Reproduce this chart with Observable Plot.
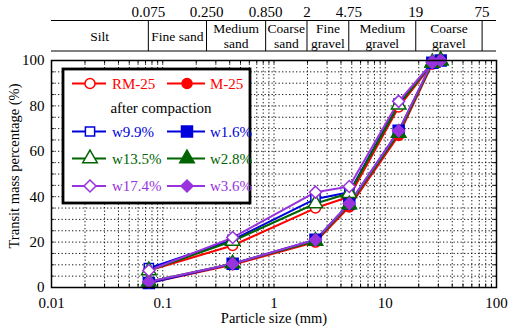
<!DOCTYPE html>
<html>
<head>
<meta charset="utf-8">
<script src="https://cdn.jsdelivr.net/npm/d3@7"></script>
<script src="https://cdn.jsdelivr.net/npm/@observablehq/plot@0.6"></script>
<style>
  html, body { margin: 0; padding: 0; background: white; }
  #chart { width: 508px; height: 331px; }
  #chart svg, #chart svg text { font-family: "Liberation Serif", "Times New Roman", Times, serif !important; }
</style>
</head>
<body>
<div id="chart"></div>
<script>
// ---- data ----
const sizes = [0.075, 0.425, 2.36, 4.75, 13.2, 26.5, 31.5];
const seriesNames = ["RM-25", "M-25", "w9.9%", "w1.6%", "w13.5%", "w2.8%", "w17.4%", "w3.6%"];
const seriesColors = ["#ff0000", "#ff0000", "#0000dd", "#0000dd", "#006400", "#006400", "#9933dd", "#9933dd"];
const seriesSymbols = ["circle", "circle", "square", "square", "triangle", "triangle", "diamond2", "diamond2"];
const seriesFilled = [false, true, false, true, false, true, false, true];
const rm25  = [7.5, 18.5, 35, 40, 79.5, 98.5, 100];
const m25   = [2, 10, 20, 35.5, 67, 98.5, 100];
const w99   = [8.5, 21, 39, 42, 81, 99, 100];
const w16   = [2, 10.5, 21, 37, 69, 99, 100];
const w135  = [7.5, 20.5, 37, 41.5, 80.5, 99, 100];
const w28   = [2.5, 10.5, 20.5, 36.5, 68, 99, 100];
const w174  = [7.5, 22, 42, 44.5, 82, 99, 100];
const w36   = [2.5, 10.5, 21, 37, 69, 99.5, 100];
const seriesValues = [rm25, m25, w99, w16, w135, w28, w174, w36];

const boundaries = [0.075, 0.25, 0.85, 2, 4.75, 19, 75];
const boundaryLabels = ["0.075", "0.250", "0.850", "2", "4.75", "19", "75"];
const classNames = [["Silt"], ["Fine sand"], ["Medium", "sand"], ["Coarse", "sand"], ["Fine", "gravel"], ["Medium", "gravel"], ["Coarse", "gravel"]];
const xTicks = [0.01, 0.1, 1, 10, 100];
const yTicks = [0, 20, 40, 60, 80, 100];

// ---- build ----
const rows = [];
seriesNames.forEach((name, i) => {
  sizes.forEach((s, j) => rows.push({series: name, idx: i, size: s, pct: seriesValues[i][j]}));
});
const minorX = [];
for (let e = -2; e < 2; e++) for (let k = 1; k <= 9; k++) minorX.push(k * Math.pow(10, e));
minorX.push(100);
const gridYVals = d3.range(5, 100, 5);
const yMinor = d3.range(0, 101, 5);

const font = '"Liberation Serif", "Times New Roman", Times, serif';
const marks = [
  Plot.gridX(minorX, {stroke: "black", strokeOpacity: 0.9, strokeWidth: 1, strokeDasharray: "1.3,2.2"}),
  Plot.gridY(gridYVals, {stroke: "black", strokeOpacity: 0.9, strokeWidth: 1, strokeDasharray: "1.3,2.2"}),
  Plot.ruleX(minorX, {x: d => d, y1: 0, y2: 1.5, stroke: "black"}),
  Plot.ruleX(minorX, {x: d => d, y1: 98.5, y2: 100, stroke: "black"}),
  Plot.ruleY(yMinor, {y: d => d, x1: 0.01, x2: 0.0106, stroke: "black"}),
  Plot.ruleY(yMinor, {y: d => d, x1: 94.3, x2: 100, stroke: "black"}),
  Plot.axisX(xTicks, {tickSize: 0, tickPadding: 10, tickFormat: d3.format("~g"), label: null, fontSize: 15}),
  Plot.axisY(yTicks, {tickSize: 0, tickPadding: 7, label: null, fontSize: 15}),
  Plot.text(["Particle size (mm)"], {frameAnchor: "bottom", dy: 35, fontSize: 14.5}),
  Plot.text(["Transit mass percentage (%)"], {frameAnchor: "left", textAnchor: "middle", dx: -37, dy: -8, rotate: -90, fontSize: 14.5})
];
seriesNames.forEach((name, i) => {
  const d = rows.filter(r => r.idx === i);
  marks.push(Plot.line(d, {x: "size", y: "pct", stroke: seriesColors[i], strokeWidth: 2}));
});
const symR = (i) => {
  const sym = seriesSymbols[i];
  return sym === "square" ? (seriesFilled[i] ? 6.2 : 5.2) : sym === "diamond2" ? 5.4 : sym === "triangle" ? 5.4 : 5;
};
seriesNames.forEach((name, i) => {
  const d = rows.filter(r => r.idx === i);
  const sym = seriesSymbols[i];
  marks.push(Plot.dot(d, {
    x: "size", y: "pct", symbol: () => sym, r: symR(i),
    fill: seriesFilled[i] ? seriesColors[i] : "white",
    stroke: seriesColors[i], strokeWidth: 1.5
  }));
});
marks.push(Plot.frame({stroke: "black", strokeWidth: 1.5}));

const plot = Plot.plot({
  width: 508, height: 331,
  marginLeft: 51, marginRight: 12, marginTop: 60, marginBottom: 44,
  x: {type: "log", domain: [0.01, 100]},
  y: {domain: [0, 100]},
  symbol: {type: "identity"},
  style: {fontFamily: font, fontSize: "15px", color: "black", background: "white", overflow: "visible"},
  marks
});
document.getElementById("chart").appendChild(plot);

// ---- size-class table above the plot (positions from Plot's x scale) ----
const sx = plot.scale("x").apply;
const svg = d3.select(plot);
const tbl = svg.append("g").attr("fill", "black");
const xL = sx(0.01), xR = sx(100);
const tTop = 20.5, tBot = 51;
tbl.append("line").attr("x1", xL).attr("x2", xR).attr("y1", tTop).attr("y2", tTop).attr("stroke", "black");
tbl.append("line").attr("x1", xL).attr("x2", xR).attr("y1", tBot).attr("y2", tBot).attr("stroke", "black");
boundaries.forEach((b, i) => {
  const x = sx(b);
  tbl.append("line").attr("x1", x).attr("x2", x).attr("y1", tTop).attr("y2", tBot).attr("stroke", "black");
  tbl.append("text").attr("x", x).attr("y", 12).attr("dy", "0.35em").attr("text-anchor", "middle")
    .attr("font-size", 15).text(boundaryLabels[i]);
});
const edges = [0.01, ...boundaries];
classNames.forEach((lines, i) => {
  const xm = (sx(edges[i]) + sx(edges[i + 1])) / 2;
  const ys = lines.length === 1 ? [36] : [28.5, 43.5];
  lines.forEach((t, k) => {
    tbl.append("text").attr("x", xm).attr("y", ys[k]).attr("dy", "0.35em").attr("text-anchor", "middle")
      .attr("font-size", 13.5).text(t);
  });
});

// ---- legend ----
const lg = svg.append("g");
lg.append("rect").attr("x", 63).attr("y", 69).attr("width", 187).attr("height", 134)
  .attr("fill", "white").attr("stroke", "black").attr("stroke-width", 2.8);
const rowY = [83.5, 131.5, 158.5, 186];
const colX = [[72, 106, 90, 112], [167, 205, 187, 210]];
const symMap = {circle: d3.symbolCircle, square: d3.symbolSquare, triangle: d3.symbolTriangle, diamond2: d3.symbolDiamond2};
seriesNames.forEach((name, i) => {
  const row = Math.floor(i / 2), col = i % 2;
  const y = rowY[row];
  const [x1, x2, xm, xt] = colX[col];
  lg.append("line").attr("x1", x1).attr("x2", x2).attr("y1", y).attr("y2", y)
    .attr("stroke", seriesColors[i]).attr("stroke-width", 2);
  const r = symR(i);
  lg.append("path").attr("d", d3.symbol(symMap[seriesSymbols[i]], Math.PI * r * r)())
    .attr("transform", `translate(${xm},${y})`)
    .attr("fill", seriesFilled[i] ? seriesColors[i] : "white")
    .attr("stroke", seriesColors[i]).attr("stroke-width", 1.5);
  lg.append("text").attr("x", xt).attr("y", y).attr("dy", "0.35em").attr("text-anchor", "start")
    .attr("font-size", 15).attr("fill", seriesColors[i]).text(name);
});
lg.append("text").attr("x", 161).attr("y", 107.5).attr("dy", "0.35em").attr("text-anchor", "middle")
  .attr("font-size", 15).attr("fill", "black").text("after compaction");
</script>
</body>
</html>
